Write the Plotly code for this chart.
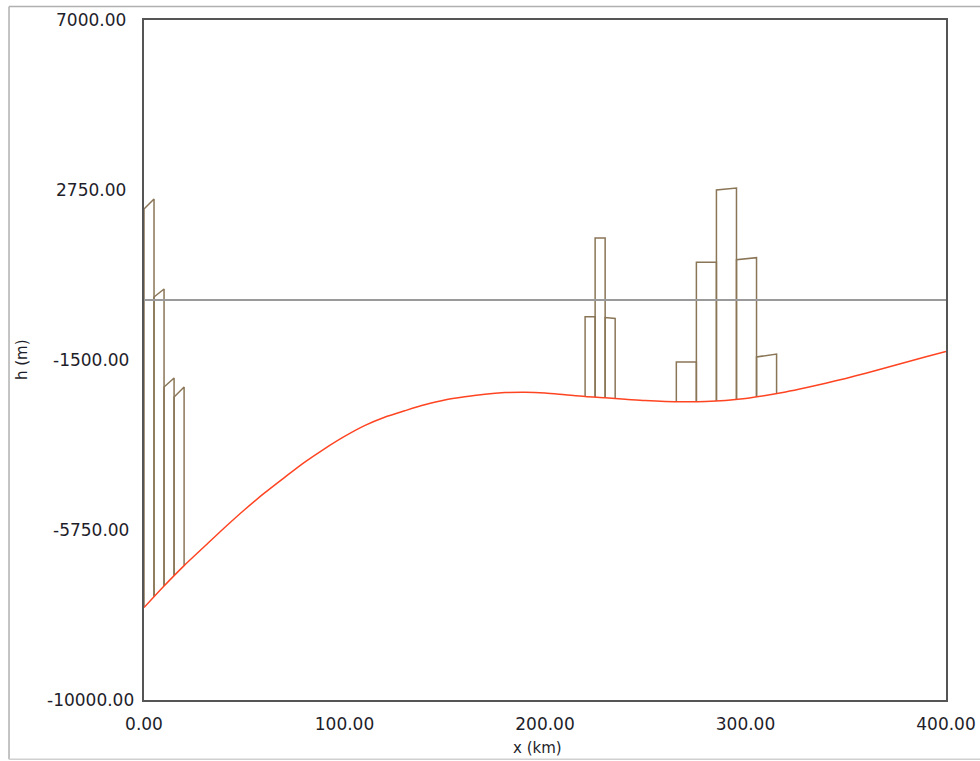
import numpy as np
import plotly.graph_objects as go

# Sea-floor profile: distance along the section (km) and depth (m)
dist_km = [0, 10, 20, 30, 40, 50, 60, 70, 80, 90, 100, 110, 120, 130, 140, 150,
           160, 170, 180, 190, 200, 210, 220, 230, 240, 250, 260, 270, 280, 290,
           300, 310, 320, 330, 340, 350, 360, 370, 380, 390, 400]
depth_m = [-7690, -7150, -6640, -6170, -5700, -5250, -4830, -4440, -4060, -3720,
           -3410, -3140, -2930, -2770, -2620, -2500, -2420, -2355, -2315, -2305,
           -2325, -2370, -2415, -2445, -2480, -2515, -2538, -2545, -2540, -2515,
           -2465, -2390, -2300, -2195, -2080, -1960, -1830, -1695, -1555, -1420,
           -1285]

# Column blocks: left edge, right edge, top height at each edge (m)
col_x0 = [0, 5, 10, 15, 220, 225, 230, 265.5, 275.5, 285.5, 295.5, 305.5]
col_x1 = [5, 10, 15, 20, 225, 230, 235, 275.5, 285.5, 295.5, 305.5, 315.5]
col_top0 = [2275, 75, -2175, -2425, -420, 1550, -440, -1550, 942, 2750, 1008, -1425]
col_top1 = [2525, 275, -1950, -2175, -420, 1550, -460, -1550, 942, 2800, 1058, -1350]

sea_level = 0

x_ticks = [0, 100, 200, 300, 400]
y_ticks = [-10000, -5750, -1500, 2750, 7000]

fig = go.Figure()

# Column outlines standing on the sea floor
for x0, x1, t0, t1 in zip(col_x0, col_x1, col_top0, col_top1):
    b0 = float(np.interp(x0, dist_km, depth_m))
    b1 = float(np.interp(x1, dist_km, depth_m))
    fig.add_trace(go.Scatter(
        x=[x0, x0, x1, x1], y=[b0, t0, t1, b1], mode="lines",
        line=dict(color="#8a7657", width=1.5), hoverinfo="skip", showlegend=False))

# Sea level
fig.add_trace(go.Scatter(
    x=[0, 400], y=[sea_level, sea_level], mode="lines",
    line=dict(color="#9a9a9a", width=2), showlegend=False))

# Sea floor
fig.add_trace(go.Scatter(
    x=dist_km, y=depth_m, mode="lines", line_shape="spline",
    line=dict(color="#ff4422", width=1.5, smoothing=0.8), showlegend=False))

text_color = "#1e1e2a"
tick_font = dict(family="DejaVu Sans", size=17, color=text_color)
title_font = dict(family="DejaVu Sans", size=15, color=text_color)

# y tick labels, centred in the left gutter
annotations = [
    dict(text=f"{v:.2f}", xref="paper", yref="y", x=-0.0661, y=v,
         xanchor="center", yanchor="middle", showarrow=False, font=tick_font)
    for v in y_ticks
]
annotations += [
    dict(text="x (km)", xref="paper", yref="paper", x=0.491, y=-0.07,
         xanchor="center", yanchor="middle", showarrow=False, font=title_font),
    dict(text="h (m)", xref="paper", yref="paper", x=-0.152, y=0.5,
         xanchor="center", yanchor="middle", showarrow=False, textangle=-90,
         font=title_font),
]

fig.update_layout(
    width=980, height=761,
    margin=dict(l=144, r=34, t=20, b=61),
    paper_bgcolor="white", plot_bgcolor="white",
    font=tick_font,
    xaxis=dict(range=[0, 400], tickvals=x_ticks,
               ticktext=[f"{v:.2f}" for v in x_ticks], automargin=False,
               showgrid=False, zeroline=False, showline=True, mirror=True,
               linecolor="#555555", linewidth=2, ticks="",
               ticklabelstandoff=8, tickfont=tick_font),
    yaxis=dict(range=[-10000, 7000], tickvals=y_ticks, showticklabels=False,
               automargin=False,
               showgrid=False, zeroline=False, showline=True, mirror=True,
               linecolor="#555555", linewidth=2, ticks=""),
    annotations=annotations,
    shapes=[
        # outer window frame
        dict(type="line", xref="paper", yref="paper", x0=-0.1683, x1=-0.1683,
             y0=-0.087, y1=1.02, line=dict(color="#b0b0b0", width=1.5)),
        dict(type="line", xref="paper", yref="paper", x0=-0.1683, x1=1.06,
             y0=1.02, y1=1.02, line=dict(color="#b0b0b0", width=1.5)),
        dict(type="line", xref="paper", yref="paper", x0=-0.1683, x1=1.06,
             y0=-0.087, y1=-0.087, line=dict(color="#d0d0d0", width=1.5)),
    ],
)

fig.write_html("out.html")
